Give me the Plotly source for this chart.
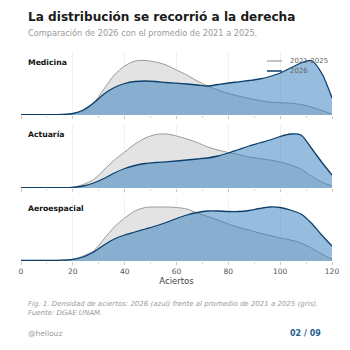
import plotly.graph_objects as go

# ---------------- data ----------------
aciertos = list(range(0, 121, 4))

medicina_prom = [0.3, 0.3, 0.3, 0.4, 0.6, 1.2, 4, 12, 26, 40, 49, 54, 54.5, 53, 50, 45,
                 40, 34, 29, 25, 21.5, 19, 16.5, 14.5, 13, 12.3, 11.8, 10.5, 8, 4.5, 1]
medicina_2026 = [0.3, 0.3, 0.3, 0.4, 0.6, 1.5, 5, 12, 21, 27.5, 31.5, 33.5, 34, 33.5, 32.5, 31.8,
                 31, 30, 29, 30.5, 32, 33.2, 34.5, 36, 38.5, 42, 47, 52, 54.5, 42, 17]

actuaria_prom = [0.2, 0.2, 0.2, 0.2, 0.3, 0.8, 3.5, 8.5, 18, 28, 36, 44, 50, 53.5, 54, 52,
                 49, 45.5, 41, 38, 35.5, 33.5, 31, 29.5, 28, 26, 23, 19, 12, 6, 2]
actuaria_2026 = [0.3, 0.3, 0.3, 0.3, 0.3, 0.6, 2, 5, 9.5, 15, 19.5, 22.5, 24.5, 25.5, 26.2, 27,
                 28, 29, 30, 32, 35, 38.5, 42, 45, 48, 51.5, 54, 53, 40, 26, 13]

aero_prom = [0.5, 0.5, 0.6, 0.6, 0.8, 1.7, 5, 10, 22, 34, 43, 50, 53.5, 54, 54, 53.5,
             52, 48, 44.5, 41, 37, 33.5, 31, 28, 25.5, 23, 21, 18, 13, 7, 1.7]
aero_2026 = [0.5, 0.5, 0.6, 0.6, 0.8, 1.7, 4, 9, 16, 22, 26, 29, 32, 35, 38.5, 42.5,
             46, 48.5, 50, 50, 49.5, 49.5, 50.5, 52.5, 54, 53.5, 51, 47, 38, 26, 15]

carreras = ["Medicina", "Actuaría", "Aeroespacial"]
series_prom = [medicina_prom, actuaria_prom, aero_prom]
series_2026 = [medicina_2026, actuaria_2026, aero_2026]
x_ticks = [0, 20, 40, 60, 80, 100, 120]
legend_labels = ["2021-2025", "2026"]

# ---------------- styling ----------------
FONT = "DejaVu Sans"
GRAY_FILL = "#e3e3e3"
GRAY_LINE = "#9a9a9a"
BLUE_FILL = "rgba(46,124,190,0.5)"
BLUE_LINE = "#0d3f6b"

W, H = 350, 350
ML, MR, MT, MB = 21, 18, 52, 89
plot_h = H - MT - MB


def py(p):
    """pixel y (from top) -> paper y"""
    return (H - MB - p) / plot_h


def px(p):
    return (p - ML) / (W - ML - MR)


domains = [[py(115), 1.0], [py(188), py(125)], [0.0, py(198)]]

fig = go.Figure()
for i, (name, prom, nuevo) in enumerate(zip(carreras, series_prom, series_2026)):
    ax = "" if i == 0 else str(i + 1)
    fig.add_trace(go.Scatter(
        x=aciertos, y=prom, mode="lines", line=dict(color=GRAY_LINE, width=1, shape="spline", smoothing=0.8),
        fill="tozeroy", fillcolor=GRAY_FILL, showlegend=False, hoverinfo="skip",
        xaxis="x" + ax, yaxis="y" + ax))
    fig.add_trace(go.Scatter(
        x=aciertos, y=nuevo, mode="lines", line=dict(color=BLUE_LINE, width=1.3, shape="spline", smoothing=0.8),
        fill="tozeroy", fillcolor=BLUE_FILL, showlegend=False, hoverinfo="skip",
        xaxis="x" + ax, yaxis="y" + ax))

layout = dict(
    width=W, height=H, paper_bgcolor="white", plot_bgcolor="white",
    margin=dict(l=ML, r=MR, t=MT, b=MB, autoexpand=False),
    font=dict(family=FONT, color="#333"),
    showlegend=False,
)
for i in range(3):
    ax = "" if i == 0 else str(i + 1)
    layout["xaxis" + ax] = dict(
        range=[0, 120], domain=[0, 1], anchor="y" + ax,
        tickvals=x_ticks, showticklabels=(i == 2),
        ticks="outside", ticklen=3, tickcolor="#c8c8c8", tickwidth=1,
        minor=dict(dtick=10, ticks="outside", ticklen=2, tickcolor="#d8d8d8", showgrid=False),
        showgrid=True, gridcolor="#f1f1f1", gridwidth=1, zeroline=False, showline=False,
        tickfont=dict(size=7.5, color="#555"),
        title=dict(text="Aciertos", font=dict(size=8.5, color="#444"), standoff=2) if i == 2 else None,
    )
    layout["yaxis" + ax] = dict(
        range=[0, 63], domain=domains[i], anchor="x" + ax,
        showticklabels=False, showgrid=False, zeroline=False, ticks="", showline=False,
    )
fig.update_layout(**layout)

annotations = [
    dict(text="<b>La distribución se recorrió a la derecha</b>", x=px(26), y=py(17),
         font=dict(size=12.1, color="#1a1a1a")),
    dict(text="Comparación de 2026 con el promedio de 2021 a 2025.", x=px(26), y=py(33),
         font=dict(size=8.2, color="#999")),
    dict(text="<i>Fig. 1. Densidad de aciertos: 2026 (azul) frente al promedio de 2021 a 2025 (gris).</i>",
         x=px(26), y=py(304), font=dict(size=7, color="#999")),
    dict(text="<i>Fuente: DGAE UNAM.</i>", x=px(26), y=py(313), font=dict(size=7, color="#999")),
    dict(text="@hellouz", x=px(26), y=py(333), font=dict(size=7.5, color="#999")),
]
for i, name in enumerate(carreras):
    top = [62, 134, 208][i]
    annotations.append(dict(text="<b>" + name + "</b>", x=px(26), y=py(top),
                            font=dict(size=7.7, color="#111")))

# manual legend (key lines + labels)
shapes = []
for j, (lab, col) in enumerate(zip(legend_labels, [GRAY_LINE, BLUE_LINE])):
    yy = py(61 + 10 * j)
    shapes.append(dict(type="line", xref="paper", yref="paper", x0=px(267), x1=px(282),
                       y0=yy, y1=yy, line=dict(color=col, width=1.2 if j == 0 else 1.5)))
    annotations.append(dict(text=lab, x=px(288), y=yy, font=dict(size=7, color="#666")))

for a in annotations:
    a.update(xref="paper", yref="paper", xanchor="left", yanchor="middle", showarrow=False)
annotations.append(dict(text="<b>02 / 09</b>", x=px(323), y=py(333), xref="paper", yref="paper",
                        xanchor="right", yanchor="middle", showarrow=False,
                        font=dict(size=8, color="#1f5f8f")))
fig.update_layout(annotations=annotations, shapes=shapes)

fig.write_html("out.html")
